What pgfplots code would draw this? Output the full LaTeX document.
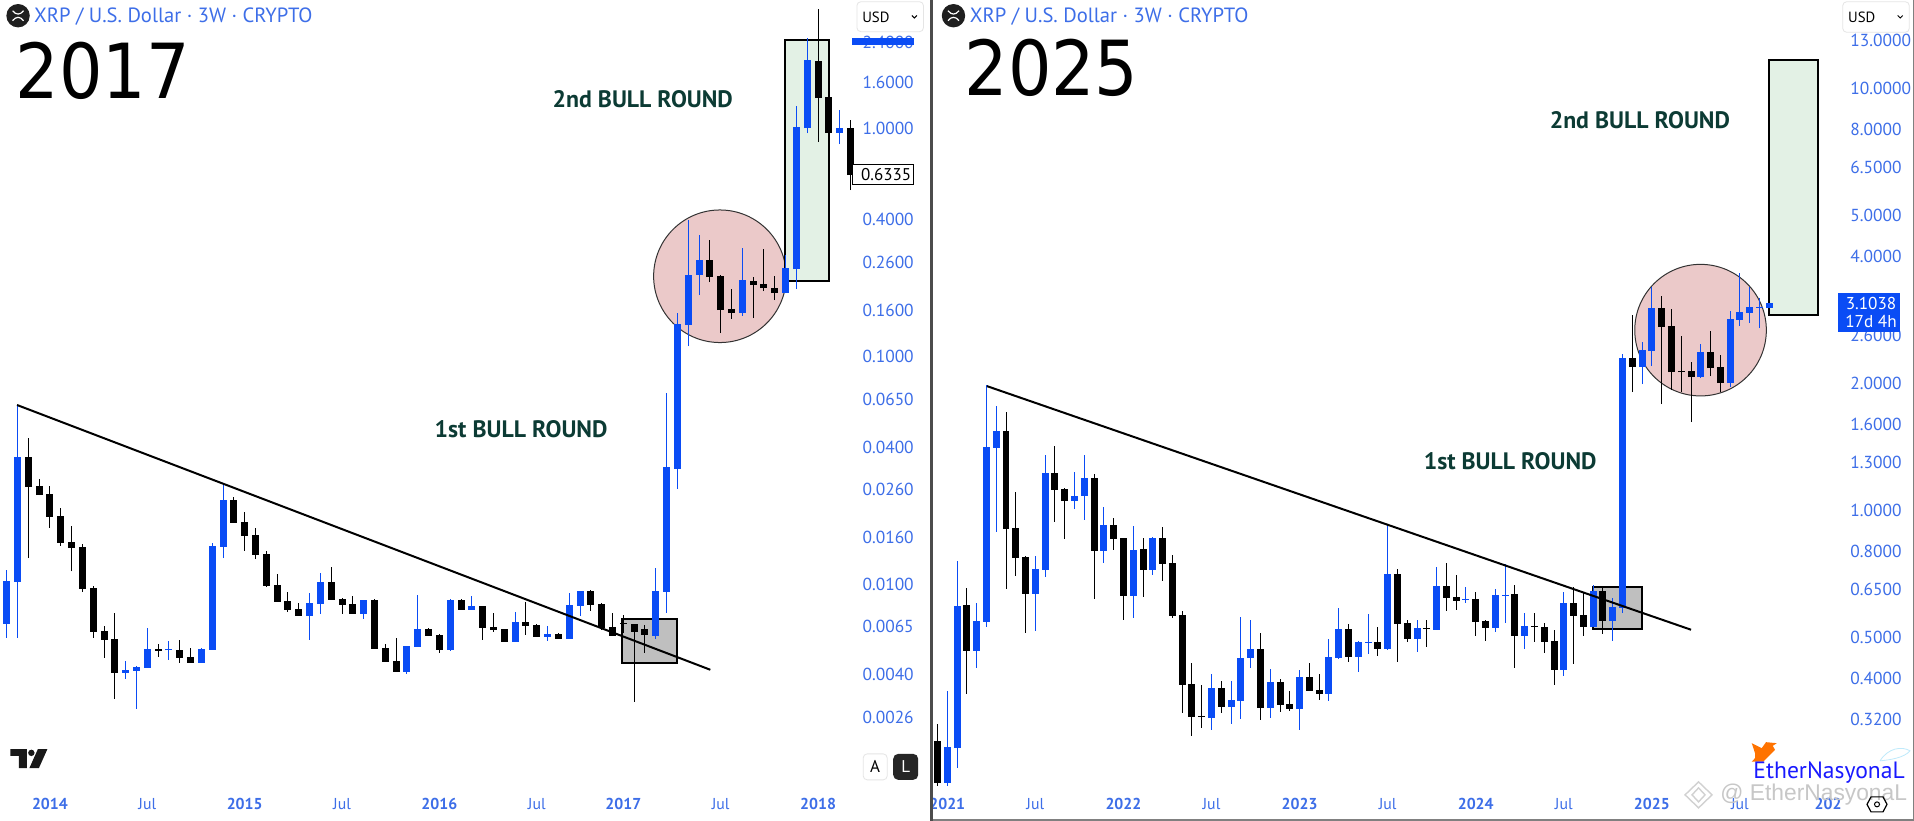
\documentclass[border=0pt]{standalone}
\usepackage{fontspec}
\usepackage{pgfplots}
\usepackage{pgfplotstable}
\pgfplotsset{compat=1.18}
\setmainfont{PT Sans}
\newfontfamily\bigfont{DejaVu Sans Condensed}
\newfontfamily\wmfont{Liberation Sans}
\definecolor{cblue}{HTML}{0A4CF5}
\definecolor{tickblue}{HTML}{3D6EE8}
\definecolor{gtext}{HTML}{0C3B34}
\definecolor{gfill}{HTML}{E3F1E5}
\definecolor{pfill}{HTML}{EBC9C9}
\definecolor{bfill}{HTML}{BFBFBF}

% 2017 panel: 3-week candles, x = bar number, prices in USD
\pgfplotstableread{
x high top bot low
0 .0116 .01035 .00669 .00581
1 .0612 .03625 .01027 .00581
11 .00461 .00421 .00408 .00384
12 .00439 .00434 .00417 .00284
13 .00643 .0052 .0043 .0043
15 .00564 .00518 .00512 .00466
18 .00526 .0052 .00452 .00452
19 .01518 .01477 .00515 .00515
20 .02775 .0234 .01463 .0130
28 .00916 .00828 .00726 .0057
29 .01125 .01024 .0082 .00741
33 .00854 .00854 .00741 .00705
37 .00536 .00536 .00413 .00404
38 .00898 .00636 .00531 .00531
41 .00862 .00854 .00515 .0051
43 .00888 .00804 .00772 .00772
47 .00757 .00683 .00559 .00559
50 .00656 .00605 .00587 .00564
52 .00916 .00812 .00575 .00575
53 .00935 .00935 .00804 .00726
60 .0118 .00935 .00593 .00575
61 .0691 .0327 .00925 .00749
62 .1551 .1387 .0321 .0262
63 .397 .2278 .1374 .1111
64 .3412 .265 .2278 .1861
68 .299 .2165 .1551 .1505
72 .2788 .2443 .1898 .1898
73 1.255 1.016 .2419 .1977
74 2.496 1.999 1.005 .9558
77 1.206 1.005 .9558 .8551
}\leftup
\pgfplotstableread{
x high top bot low
2 .0437 .03625 .02675 .0130
3 .0289 .0270 .0246 .0246
4 .0270 .0249 .01976 .0177
5 .02157 .01995 .01523 .01477
6 .01807 .01539 .01448 .01137
7 .01507 .01463 .00954 .00925
8 .00983 .00963 .00617 .00581
9 .00656 .00624 .0057 .00475
10 .00749 .00575 .00408 .00314
14 .00547 .0052 .0051 .0048
16 .0057 .00515 .00475 .00452
17 .00526 .0048 .00452 .00452
21 .02414 .0234 .01862 .01862
22 .02078 .01882 .01628 .0140
23 .0177 .01645 .01341 .01287
24 .0140 .01354 .00983 .00974
25 .01114 .00994 .00837 .00837
26 .00925 .00845 .00772 .00757
27 .00828 .0078 .00726 .00726
30 .01193 .01024 .00854 .00854
31 .0087 .00862 .00812 .00741
32 .00888 .0082 .00741 .00741
34 .00862 .00854 .0052 .0052
35 .00547 .00526 .00457 .00457
36 .00581 .00461 .00413 .00413
39 .00643 .00636 .00593 .00593
40 .00605 .00599 .00515 .005
42 .00862 .00854 .00772 .00772
44 .00804 .00804 .00643 .0057
45 .00749 .0065 .0063 .00617
46 .00636 .00636 .00559 .00559
48 .00837 .00683 .00656 .00599
49 .00667 .00663 .00587 .00587
51 .00611 .00605 .00575 .00575
54 .00944 .00935 .00812 .00764
55 .00828 .0082 .00643 .0063
56 .00749 .0065 .00593 .00593
57 .00734 .00676 .00669 .00609
58 .00669 .00669 .00617 .00305
59 .00663 .00636 .00599 .005
65 .3243 .265 .2232 .2122
66 .2278 .2254 .1599 .1267
67 .1977 .1615 .1551 .146
69 .2232 .2143 .2059 .1474
70 .2961 .2078 .1996 .1937
71 .2254 .1996 .1898 .1769
75 3.346 1.979 1.361 .8729
76 1.376 1.376 .9558 .9558
78 1.09 1.005 .6256 .5375
}\leftdown

% 2025 panel
\pgfplotstableread{
x high top bot low
1 .374 .2756 .2265 .2228
2 .7602 .5947 .2741 .2457
4 .6045 .5479 .4653 .424
5 1.985 1.416 .5449 .5302
6 1.770 1.545 1.408 .8904
10 .7811 .7277 .6349 .5189
11 1.356 1.229 .7237 .6966
14 1.235 1.084 1.054 1.009
15 1.356 1.196 1.084 .9506
17 1.02 .925 .8027 .7519
20 .92 .8071 .628 .557
22 .8664 .8618 .7237 .7042
28 .4103 .3801 .3228 .3023
30 .395 .3561 .3427 .3124
31 .56 .4478 .3542 .321
32 .5509 .4703 .4478 .424
34 .4217 .3928 .3409 .3228
37 .4194 .4037 .339 .3023
40 .4967 .4502 .3679 .3542
41 .5883 .5245 .4478 .4454
43 .4913 .4886 .4502 .4148
44 .5692 .4886 .486 .4577
46 .93 .7081 .4703 .4678
49 .5509 .5274 .4967 .4627
51 .7356 .6632 .5217 .5217
54 .6596 .6178 .6145 .6045
57 .6525 .6314 .5274 .516
58 .7478 .632 .6295 .542
60 .5724 .5332 .5049 .4703
64 .6418 .6045 .4194 .4059
67 .6669 .6454 .5302 .5302
69 .6212 .5915 .5479 .4913
70 2.351 2.3 .5883 .5724
72 2.51 2.403 2.19 1.996
73 3.389 3.022 2.39 2.202
78 2.483 2.377 2.073 2.062
81 2.973 2.846 2.007 1.963
82 3.658 2.956 2.83 2.739
83 3.389 3.039 2.941 2.784
84 3.192 3.039 3.028 2.709
85 3.106 3.104 3.022 3.022
}\rightup
\pgfplotstableread{
x high top bot low
0 .3124 .2847 .2265 .2228
3 .656 .598 .4653 .3679
7 1.713 1.545 .9051 .6525
8 1.108 .91 .7726 .7004
9 .7811 .7768 .6349 .5133
12 1.424 1.229 1.12 .9402
13 1.132 1.125 1.054 .8571
16 1.222 1.196 .8027 .6178
18 .9611 .925 .8571 .8071
19 .8618 .8618 .628 .5509
21 .8618 .8116 .7237 .6246
23 .9149 .8618 .7478 .6816
24 .7854 .7519 .5631 .557
25 .5787 .5662 .3864 .3317
26 .4357 .3885 .3246 .2926
27 .3864 .3258 .3246 .3057
29 .395 .3801 .3427 .3317
33 .5133 .4703 .3409 .3193
35 .3993 .3928 .3465 .3335
36 .374 .3484 .339 .3354
38 .4357 .4037 .374 .374
39 .4103 .376 .3679 .3561
42 .539 .5245 .4502 .4381
45 .5302 .4886 .4703 .4527
47 .7277 .7081 .539 .4381
48 .5509 .542 .4967 .4886
50 .5509 .5274 .5245 .4755
52 .7519 .6632 .6212 .5787
53 .7042 .6246 .6112 .5818
55 .6418 .6178 .5449 .5049
56 .5509 .5479 .5274 .4913
59 .6669 .6349 .5049 .424
61 .5724 .5332 .5302 .4886
62 .542 .5302 .4886 .4602
63 .5217 .4913 .4194 .3864
65 .6596 .6045 .5631 .4333
66 .6384 .5662 .5302 .5049
68 .6596 .6454 .5479 .5104
71 2.909 2.3 2.19 1.911
74 3.227 3.022 2.724 1.79
75 3.006 2.739 2.13 1.932
76 2.594 2.142 2.13 1.911
77 2.25 2.142 2.073 1.622
79 2.666 2.377 2.178 2.085
80 2.338 2.19 2.007 1.911
}\rightdown

\newcommand{\candles}[2]{%
  \addplot[draw=none,mark=none,forget plot,
    error bars/.cd,y dir=plus,y explicit,error mark=none,
    error bar style={draw=#2,line width=0.5pt}]
    table[x=x,y=low,y error plus expr=\thisrow{high}-\thisrow{low}]{#1};
  \addplot[draw=none,mark=none,forget plot,
    error bars/.cd,y dir=plus,y explicit,error mark=none,
    error bar style={draw=#2,line width=3.5pt}]
    table[x=x,y=bot,y error plus expr=\thisrow{top}-\thisrow{bot}]{#1};
}
\newcommand{\xrpicon}[2]{%
  \fill[black!88] (#1,#2) circle (11.7);
  \draw[white,line width=0.6pt] (#1-5.5,#2-5) .. controls (#1-2,#2-0.5) and (#1+2,#2-0.5) .. (#1+5.5,#2-5);
  \draw[white,line width=0.6pt] (#1-5.5,#2+5) .. controls (#1-2,#2+0.5) and (#1+2,#2+0.5) .. (#1+5.5,#2+5);
}
\newcommand{\usdbutton}[2]{%
  \draw[black!10,line width=0.4pt,rounded corners=2pt] (#1,1.7) rectangle (#1+66.6,#2);
  \node[anchor=west,inner sep=0pt,font=\fontsize{7.4}{9}\selectfont] at (#1+5,17) {USD};
  \draw[black,line width=0.5pt] (#1+55,15.5) -- (#1+57.5,18) -- (#1+60,15.5);
}
\begin{document}
\begin{tikzpicture}
\begin{scope}[x=0.5pt,y=-0.5pt]
\useasboundingbox (0,0) rectangle (1914,821);
\fill[white] (0,0) rectangle (1914,821);
% shapes under the candles
\filldraw[fill=pfill,draw=black!80,line width=0.5pt] (719.7,276.3) circle (66.3);
\filldraw[fill=gfill,draw=black,line width=1pt] (785,40) rectangle (828.3,281);
\filldraw[fill=bfill,draw=black,line width=1pt] (621.7,618.7) rectangle (676.3,663.3);
\filldraw[fill=pfill,draw=black!80,line width=0.5pt] (1700.5,330.2) circle (65.8);
\filldraw[fill=gfill,draw=black,line width=1pt] (1768.8,60) rectangle (1818.3,315);
\filldraw[fill=bfill,draw=black,line width=1pt] (1593,587) rectangle (1642.3,629);
\end{scope}

\begin{axis}[scale only axis,ymode=log,clip=false,
  anchor=south west,height=395pt,
  axis line style={draw=none},major tick length=0pt,
  tick style={draw=none},
  yticklabel pos=right,
  y tick label style={anchor=west,inner sep=0pt,xshift=2pt,text=tickblue,font=\fontsize{8.7}{10}\selectfont},
  x tick label style={anchor=center,inner sep=0pt,yshift=-7pt,text=tickblue,font=\fontsize{7.9}{9}\selectfont},
  at={(0pt,-395pt)},width=429pt,
  xmin=-0.582,xmax=78.71,ymin=0.00125,ymax=3.672,
  xtick={4,13,22,31,40,49,57,66,75},
  xticklabels={\textbf{2014},Jul,\textbf{2015},Jul,\textbf{2016},Jul,\textbf{2017},Jul,\textbf{2018}},
  ytick={2.4,1.6,1,.4,.26,.16,.1,.065,.04,.026,.016,.01,.0065,.004,.0026},
  yticklabels={2.4000,1.6000,1.0000,0.4000,0.2600,0.1600,0.1000,0.0650,0.0400,0.0260,0.0160,0.0100,0.0065,0.0040,0.0026}]
\candles{\leftup}{cblue}
\candles{\leftdown}{black}
\addplot[black,line width=1pt,forget plot] coordinates {(0.96,.0612)(65.04,.00421)};
\end{axis}

\begin{axis}[scale only axis,ymode=log,clip=false,
  anchor=south west,height=395pt,
  axis line style={draw=none},major tick length=0pt,
  tick style={draw=none},
  yticklabel pos=right,
  y tick label style={anchor=west,inner sep=0pt,xshift=2pt,text=tickblue,font=\fontsize{8.7}{10}\selectfont},
  x tick label style={anchor=center,inner sep=0pt,yshift=-7pt,text=tickblue,font=\fontsize{7.9}{9}\selectfont},
  at={(467pt,-395pt)},width=456pt,
  xmin=-0.337,xmax=92.84,ymin=0.2178,ymax=16.24,
  xtick={1,10,19,28,37,46,55,64,73,82,91},
  xticklabels={\textbf{2021},Jul,\textbf{2022},Jul,\textbf{2023},Jul,\textbf{2024},Jul,\textbf{2025},Jul,\textbf{202}},
  ytick={13,10,8,6.5,5,4,2.6,2,1.6,1.3,1,.8,.65,.5,.4,.32},
  yticklabels={13.0000,10.0000,8.0000,6.5000,5.0000,4.0000,2.6000,2.0000,1.6000,1.3000,1.0000,0.8000,0.6500,0.5000,0.4000,0.3200}]
\candles{\rightup}{cblue}
\candles{\rightdown}{black}
\addplot[black,line width=1pt,forget plot] coordinates {(5.05,1.974)(77.0,.522)};
\end{axis}

\begin{scope}[x=0.5pt,y=-0.5pt]
% panel frame
\fill[black!70] (930,0) rectangle (933,821);
\fill[black!50] (933,819) rectangle (1914,821);
\fill[black!50] (1913,0) rectangle (1914,821);
% headers
\xrpicon{17.7}{15.7}
\xrpicon{953.3}{15.7}
\node[anchor=west,inner sep=0pt,text=tickblue,font=\fontsize{10.3}{12}\selectfont] at (33.3,16.7) {XRP / U.S. Dollar · 3W · CRYPTO};
\node[anchor=west,inner sep=0pt,text=tickblue,font=\fontsize{10.3}{12}\selectfont] at (969.3,16.7) {XRP / U.S. Dollar · 3W · CRYPTO};
\node[anchor=west,inner sep=0pt,font=\bigfont\fontsize{38}{40}\selectfont] at (15,70.5) {2017};
\node[anchor=west,inner sep=0pt,font=\bigfont\fontsize{38}{40}\selectfont] at (964,68) {2025};
% bull round labels
\node[anchor=west,inner sep=0pt,text=gtext,font=\bfseries\fontsize{11.9}{14}\selectfont] at (552,99) {2nd BULL ROUND};
\node[anchor=west,inner sep=0pt,text=gtext,font=\bfseries\fontsize{11.9}{14}\selectfont] at (1549.3,120) {2nd BULL ROUND};
\node[anchor=west,inner sep=0pt,text=gtext,font=\bfseries\fontsize{11.9}{14}\selectfont] at (434,429.3) {1st BULL ROUND};
\node[anchor=west,inner sep=0pt,text=gtext,font=\bfseries\fontsize{11.9}{14}\selectfont] at (1423.3,461) {1st BULL ROUND};
% scale widgets
\usdbutton{856.7}{31.7}
\usdbutton{1842.7}{32.3}
\fill[cblue] (851.7,38) rectangle (914,44.7);
\filldraw[fill=white,draw=black,line width=0.5pt] (852.3,164.7) rectangle (913.3,184.3);
\node[inner sep=0pt,font=\fontsize{8.5}{10}\selectfont] at (886,174.5) {0.6335};
\fill[cblue] (1838,293.3) rectangle (1900,331.7);
\node[inner sep=0pt,text=white,font=\fontsize{8.6}{10}\selectfont] at (1871,303.5) {3.1038};
\node[inner sep=0pt,text=white,font=\fontsize{8.6}{10}\selectfont] at (1871,322) {17d 4h};
% A / L buttons
\draw[black!10,line width=0.4pt,rounded corners=2pt] (863,754) rectangle (887,780);
\node[inner sep=0pt,font=\fontsize{8.5}{10}\selectfont] at (875,767) {A};
\fill[black!85,rounded corners=2.5pt] (893,754) rectangle (918,780);
\node[inner sep=0pt,text=white,font=\fontsize{8.5}{10}\selectfont] at (905.5,767) {L};
% TradingView logo
\fill[black!90] (10,749.3) -- (26.5,749.3) -- (26.5,768.3) -- (18.5,768.3) -- (18.5,756) -- (10,756) -- cycle;
\fill[black!90] (31,753) circle (3.2);
\fill[black!90] (37.5,749.3) -- (47,749.3) -- (38.5,768.3) -- (29,768.3) -- cycle;
% watermarks
\fill[orange!90!red] (1776.7,743.3) -- (1766,742.3) -- (1761.7,748.3) -- (1751.7,743.3) -- (1755,753.3) -- (1755,758.3) -- (1751.7,761.7) -- (1763.3,761.7) -- (1775,750) -- (1772.7,746) -- cycle;
\node[anchor=west,inner sep=0pt,text=blue!90!white,font=\fontsize{11.8}{14}\selectfont] at (1753,772.5) {EtherNasyonaL};
\node[anchor=west,inner sep=0pt,text=black!22,font=\wmfont\fontsize{11.4}{14}\selectfont] at (1720,795) {@ EtherNasyonaL};
\draw[black!18,line width=0.7pt] (1698.5,782) -- (1712,795) -- (1698.5,808) -- (1685,795) -- cycle;
\draw[black!18,line width=0.7pt] (1698.5,788) -- (1705,795) -- (1698.5,802) -- (1692,795) -- cycle;
\draw[cyan!25,line width=0.4pt] (1880,761) .. controls (1888,748) and (1902,746) .. (1910,751) .. controls (1904,758) and (1890,760) .. (1880,761);
\draw[black,line width=0.6pt] (1871,797) -- (1883,797) -- (1887,804.5) -- (1883,812) -- (1871,812) -- (1867,804.5) -- cycle;
\draw[black,line width=0.5pt] (1877,804.5) circle (2.5);
\end{scope}
\end{tikzpicture}
\end{document}
